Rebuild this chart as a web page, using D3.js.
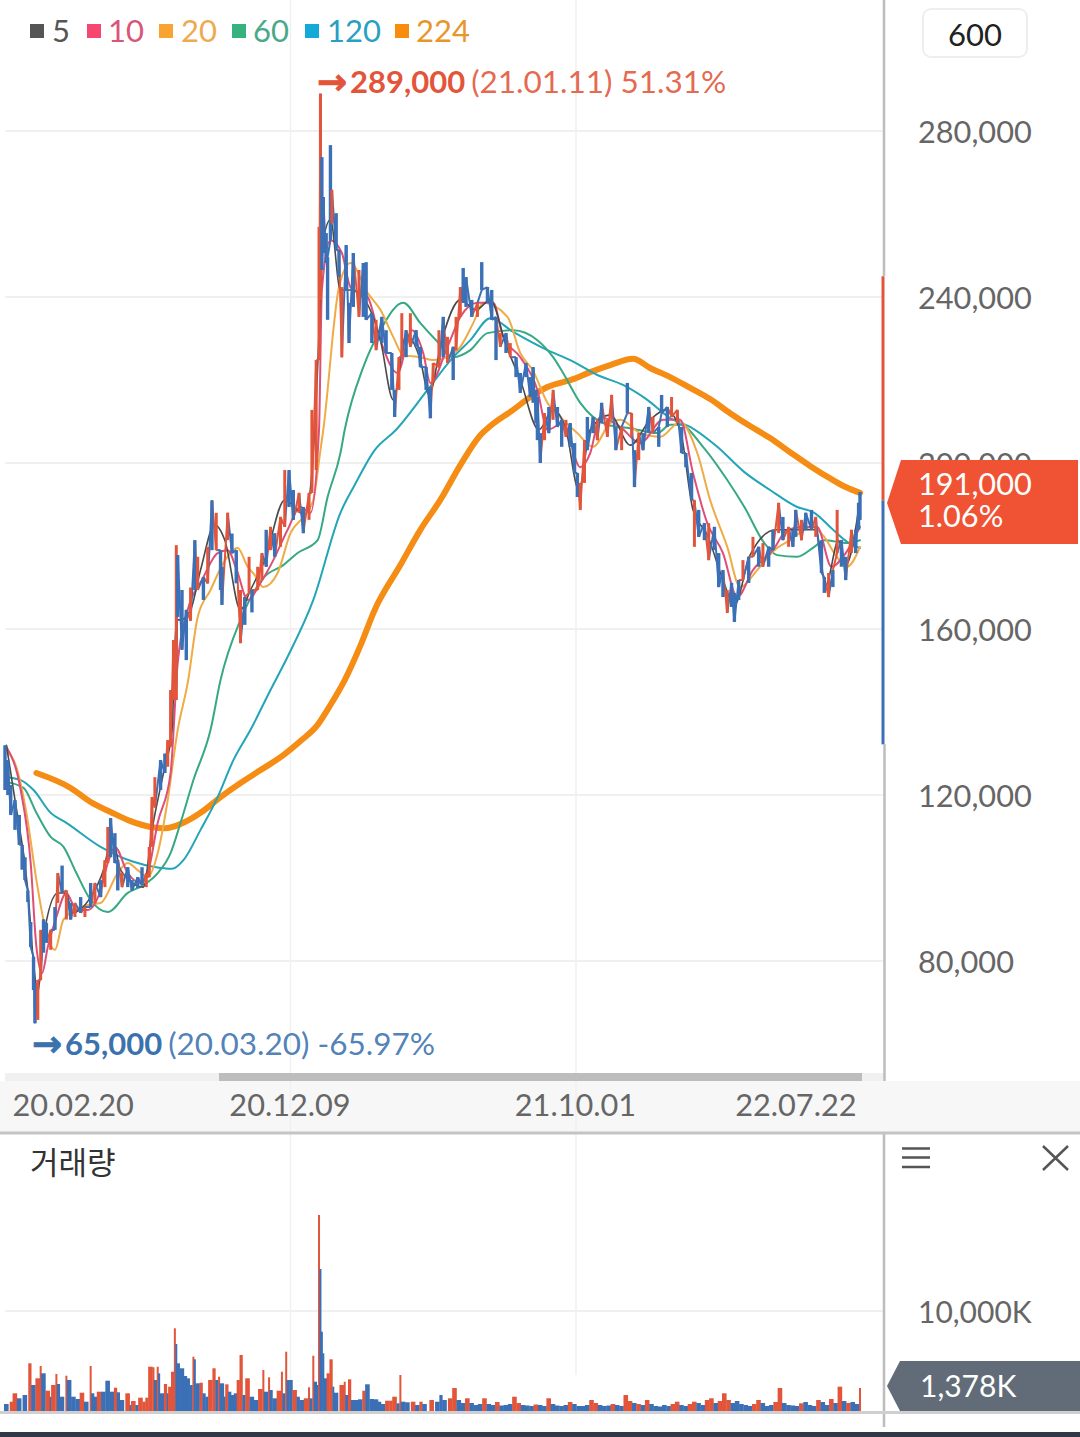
<!DOCTYPE html>
<html>
<head>
<meta charset="utf-8">
<script src="https://cdn.jsdelivr.net/npm/d3@7"></script>
<style>
  html, body { margin: 0; padding: 0; background: #fff; }
  svg { display: block; font-family: Lato, sans-serif; }
</style>
</head>
<body>
<script>
// prices are in thousands of won, volumes in K, x is the trading day (0..599)
const priceTicks = [80, 120, 160, 200, 240, 280];
const dateTicks = [0, 200, 400, 599];
const dateLabels = ["20.02.20", "20.12.09", "21.10.01", "22.07.22"];
const legendNames = ["5", "10", "20", "60", "120", "224"];
const legendColors = ["#555555", "#f5476f", "#f9a431", "#35b27d", "#14a9d6", "#f98b0d"];
const legendTextColors = ["#555555", "#d9557a", "#eeaa4e", "#4aa98a", "#2a9fc4", "#e8952a"];

const barDay = [
  0,2,4,7,10,12,14,16,18,20,
  21,23,25,27,29,32,35,37,40,43,
  46,49,53,56,60,63,67,70,72,74,
  77,79,82,86,89,93,96,99,101,103,
  105,109,112,114,116,118,120,121,124,127,
  130,133,135,139,142,145,148,151,152,156,
  159,162,165,168,171,173,177,180,183,186,
  189,193,196,199,202,206,209,213,215,218,
  220,221,222,223,225,226,228,229,232,234,
  236,239,241,244,248,251,253,257,260,264,
  267,271,273,276,278,281,284,288,291,295,
  298,300,304,307,310,314,316,319,321,323,
  327,331,334,338,341,344,347,351,354,358,
  361,365,368,370,372,373,375,378,381,384,
  387,390,393,396,399,401,403,406,408,412,
  415,418,422,425,428,432,436,439,441,444,
  447,451,454,458,460,464,467,471,474,477,
  481,483,486,490,493,497,500,503,506,509,
  511,514,517,521,524,528,531,535,538,542,
  545,549,552,554,558,561,565,568,572,574,
  577,580,583,586,589,593,596,598,599];
const barHigh = [
  132,128.4,122.4,118.8,115.2,108,105,97,89.4,81,
  74.7,75.4,87.5,90,89.2,87.5,93,101.2,103,97,
  94,94,95.4,93,98.8,98.8,99.5,104.3,112.3,114.4,
  110.8,104.3,101.2,102.6,99.5,100.2,102.6,101.2,107.5,119.5,
  124.3,128.4,130,133.2,145.3,157.3,180.2,177.8,169.4,164.6,
  170,181.4,177.4,172.5,179.8,191,188,179,175,188,
  183,179,169.4,167.7,177.4,169.4,175,178.3,183.9,184.6,
  183.1,187,198.3,198.3,193.5,192.8,189.4,192.8,212.8,224.8,
  256.9,289,273.7,264.1,255.4,249.6,276.6,265.8,260.2,251.3,
  242.4,252.5,238.6,250.6,246.5,248.2,248.4,236.1,234.5,235.2,
  232,226.5,217.6,225.5,236.1,232,236.1,232,228,223.1,
  218.3,224.1,232,235.2,230.4,228,235.2,242.4,247,244.8,
  239.3,238.6,248.4,242.4,241.7,235.2,231.3,231.3,228.9,225.5,
  221.7,224.1,220.7,223.1,217.6,215.9,207.2,212,213.5,217.6,
  213.5,210.4,210.4,209.6,204.8,197.6,195.2,205.5,211.1,211.1,
  210.4,214.5,210.4,216.4,208.7,208.7,219.3,212,203.1,207.2,
  207.2,213.5,211.1,208.7,216.4,213.5,215.9,212.8,208.7,202.4,
  197.6,191,188.7,185.5,185.5,184.6,178.3,174.2,169.4,171.1,
  168.7,171.8,176.6,177.4,182.2,179.8,180.7,179.8,183.9,190.4,
  187,184.6,183.9,188.7,186.3,188,188.7,187,181.4,172.5,
  173.5,174.2,188.7,181.4,177.4,183.9,183.9,190.4,193];
const barLow = [
  121.2,120,115.2,111.6,108,102,99.5,94.2,83.4,73,
  65,65.8,75.4,82,84.4,82.7,87.5,94,96.4,90,
  90,90.6,91.6,90.6,93,94,95.4,97.8,103.6,105,
  103.6,97,97.8,97.8,97,97.6,98.3,97.8,100.2,107.5,
  117,121.2,125.3,126.8,131.6,142.9,142.9,162.9,155,152.5,
  162,169.4,169.4,167,171,179,179,169.4,165.8,181.4,
  178.3,171,156.6,161,168.7,164,169.4,171.8,175,179,
  177.4,179.8,184.6,189.4,186.3,188,183.1,186.3,192.8,198.3,
  224.8,239.3,246.5,250.6,248.2,234.5,253.7,257.8,251.3,244.8,
  225.5,241.7,228.9,237.6,235.2,235.2,234.5,228.9,227.2,228.9,
  226.5,217.6,211.1,217.6,225.5,225.5,228,228,223.1,217.6,
  210.8,219.3,223.1,225.5,224.1,220,227.2,235.2,238.6,237.6,
  235.2,235.2,241.7,238.6,234.5,224.8,228,226.5,225.5,220.7,
  216.9,220.7,215.9,214.5,209.6,205.5,200,205.5,207.2,210.4,
  208.7,203.9,206.3,203.9,197.6,191.8,188.7,195.2,203.1,207.2,
  205.5,209.6,206.3,210.4,203.1,203.1,212,206.3,194.2,200.7,
  203.1,207.2,207.2,203.9,212,208.7,211.1,209.6,202.4,199,
  191,179.8,182.2,181.4,176.6,179,170.1,167.7,163.9,165.3,
  161.7,167,171.8,171.1,177.4,175,175,175,179,183.1,
  181.4,179.8,179.8,182.2,181.4,183.9,183.9,182.2,173.5,168.7,
  167.7,170.1,178.3,175,171.8,178.3,178.3,183.9,186.3];
const barUp = [
  0,0,0,0,0,0,0,0,0,0,
  0,1,1,0,0,1,0,1,0,1,
  0,1,0,1,0,1,0,1,1,0,
  0,0,1,0,0,0,0,1,1,1,
  1,0,0,1,1,1,1,0,0,0,
  1,0,1,0,1,0,1,0,0,1,
  0,0,1,0,1,0,1,1,0,1,
  0,1,1,0,0,1,0,1,1,1,
  1,1,0,0,0,0,0,1,0,0,
  1,0,0,0,1,0,0,0,1,0,
  0,0,0,1,1,0,1,0,0,0,
  0,1,1,0,1,0,1,1,0,0,
  0,1,0,0,0,0,1,0,1,0,
  0,0,0,0,0,0,0,1,0,1,
  0,0,1,0,0,0,1,1,0,0,
  1,0,1,1,0,1,0,1,0,1,
  0,0,1,0,0,0,1,1,0,0,
  0,1,0,0,1,0,0,0,1,0,
  0,0,1,0,1,0,1,0,0,1,
  0,1,0,0,1,0,0,1,0,0,
  1,0,1,0,0,1,0,0,0];

const ma5Day = [1,7,16,20,23,27,37,43,47,60,69,75,81,97,103,111,117,120,123,130,137,147,154,165,172,182,196,210,217,221,223,228,235,242,252,263,272,281,291,297,306,319,330,340,351,361,374,384,393,402,410,424,438,452,463,473,482,492,503,511,522,540,558,568,575,584,589,599];
const ma5 = [132,118.8,97.1,79.5,72.3,85.8,96.4,96.4,91.6,95.4,101.9,109.9,101.9,97.8,111.6,125.3,135.7,162.2,162.2,164.6,174.2,185.1,181.4,164.6,169.4,176.6,191.1,187.5,208,239.3,253.7,258.6,241.7,241.7,239.3,229.6,215.2,230.8,224.8,216.4,229.6,239.3,236.9,239.3,228.4,220,208,212.8,208,193.5,208,211.6,204.3,210.4,212.8,208,188.7,182.7,171.8,165.8,177.8,183.9,183.9,183.9,170.6,181.4,175.4,191];
const ma10Day = [1,11,18,22,26,30,36,43,50,58,67,72,77,86,95,100,107,116,121,128,138,149,156,163,170,179,188,198,207,214,220,222,228,236,242,254,263,275,285,293,298,310,319,331,342,349,361,373,380,391,403,410,417,431,445,461,473,482,492,503,513,524,538,548,559,569,579,589,599];
const ma10 = [131.6,121.2,103.6,83.4,77.1,83.4,90.6,96.4,92.3,92.3,97.1,103.6,107.5,101.2,98.8,101.2,113.3,125.3,151.8,164.6,171.8,178.3,179,173.5,167,171.1,176.6,183.9,189.4,188,208,241.7,253.7,250.6,242.4,240,229.6,221.7,232,226.5,219.3,228,235.2,238.6,238.6,230.4,225.5,217.6,208,209.6,199,202.4,211.1,208.7,204.8,210.4,210.4,197.6,185.5,178.3,167.7,174.2,179,183.9,184.6,184.6,175,178.3,184.6];
const ma20Day = [1,8,15,22,28,35,41,58,67,79,86,93,100,107,114,121,128,135,144,153,163,170,175,181,191,200,209,216,221,223,234,242,254,263,272,279,291,300,317,328,335,352,361,370,380,391,401,412,424,431,445,459,473,485,494,506,515,527,539,550,565,574,581,590,599];
const ma20 = [130.8,126.7,115.7,99.5,88.2,82.7,90,93.5,94,101.2,103.6,101.9,100.2,106,118.8,135.7,147,162.9,169.4,175.9,179.5,175,173,170.1,173.5,183.1,187,191.1,203.1,208,242.4,248.2,241,236.9,230.4,226,225.5,224.8,227.2,233.7,238.6,235.2,226.5,222.2,214.5,210.4,207.2,203.9,209.6,210.4,207.2,206.3,209.9,202.4,191.1,179.8,170.1,174.2,179,181.4,184.6,182.2,178.3,175,179.8];
const ma60Day = [1,13,22,32,41,50,60,72,86,97,107,116,123,132,144,151,165,181,195,205,219,226,235,238,251,263,279,291,303,314,326,338,356,373,384,391,403,422,438,457,466,473,489,506,518,532,541,555,567,574,590,599];
const ma60 = [123.1,121.7,115.7,109.9,107.5,101.2,94.7,91.8,96.4,98.3,101.2,106,113.3,123.6,135.7,147.7,162.2,172.3,175.4,178.3,181.4,191.8,202.4,208,223.1,232,238.6,233.7,229.2,225.5,227.2,231.3,232,229.6,225.5,221.7,214.5,209.2,208.4,207.2,209.2,209.2,203.9,195.9,189.4,180.7,177.8,177.4,179.8,181.4,180.7,181.4];
const ma120Day = [1,11,20,32,43,67,90,104,117,125,137,149,160,172,186,198,216,235,245,259,274,296,314,326,340,356,380,396,415,433,450,466,480,499,518,536,555,567,579,590,599];
const ma120 = [124.3,123.6,121.2,115.7,113.3,107.5,103.9,102.7,102.2,104.3,111.6,119.5,128.4,135.7,145.3,153.3,167,188,194.7,203.1,208,217.6,225.5,229.6,234.9,231.6,227.2,224.8,221.2,218.8,215.2,210.8,208.7,203.9,197.8,193.5,189.4,188,184.3,181,179.5];
const ma224Day = [22,46,60,74,88,102,112,123,137,151,165,179,195,207,219,228,238,249,259,277,291,305,319,333,340,356,368,380,398,410,424,440,452,466,480,494,508,522,536,550,564,579,589,599];
const ma224 = [125.3,121.7,118.3,115.9,113.7,112.3,112,113,115.7,119.5,122.9,126,129.6,133,136.9,141.7,147.7,156,164.6,175.4,183.9,191.1,199.5,206.7,208.9,212.8,215.9,218.3,220.2,221.9,223.6,225.1,222.9,220.7,218.1,215.4,212,208.9,206,202.6,199.3,196.1,194.2,192.8];

const volDayEarly = [
  0,4,6,9,13,17,19,22,25,26,
  29,32,33,36,37,39,43,44,47,50,
  53,56,60,61,63,65,68,71,74,77,
  79,81,85,88,89,92,94,97,99,101,
  104,105,107,108,109,112,114,115,117,119,
  120,121,123,126,128,130,132,133,134,137,
  139,141,143,146,148,150,151,154,155,157,
  159,161,163,165,167,169,172,175,178,181,
  182,185,186,188,191,194,195,197,198,200,
  202,205,207,210,213,214,216,217,219,220,
  221,222,223,224,226,228,230,231,235,238,
  239,241,243,245,248,251,253,256,259,262,
  264,267,270,272,275,277,278,281,285,288,
  291,293,298,302,305,307,311];
const volumeEarly = [
  700,930,1770,1270,1600,4770,2600,3270,4500,3770,
  2030,1430,2600,3700,2700,1430,3530,3100,1430,1200,
  1830,930,4500,1770,1430,1930,1930,3030,1930,2330,
  1870,1100,1770,600,1000,600,1330,930,1330,4430,
  4370,3100,4430,3770,1770,2700,1770,2430,3930,8270,
  6700,4770,4270,3500,3270,2600,5430,5170,2770,2830,
  1770,1430,3100,4270,3100,3430,2770,1430,2670,1930,
  1600,1770,3100,5600,1600,3270,1430,1100,2200,4100,
  1930,3370,2100,1270,2030,3930,1770,5930,3100,3100,
  2100,1430,1100,1270,2370,1270,5530,2930,2600,19600,
  14200,7930,5770,3270,3770,5170,2430,1830,2600,2930,
  1600,3170,1100,1100,1170,2030,2670,1200,1170,930,
  700,1030,1030,1430,770,3600,930,870,930,600,
  930,700,1100,930,1600,1100,1270];
const volUpEarly = [
  0,1,1,0,0,1,0,1,1,0,
  1,0,1,1,0,0,1,0,0,0,
  1,0,1,0,0,1,0,0,0,1,
  0,0,1,0,1,0,1,1,1,1,
  1,0,1,0,0,1,0,1,1,1,
  0,0,0,0,0,0,1,0,0,1,
  0,0,1,1,0,1,0,0,1,0,
  0,0,1,1,0,1,0,0,1,1,
  0,1,0,0,1,1,0,1,0,0,
  1,0,0,1,1,0,1,0,0,1,
  0,0,0,0,1,1,0,0,1,1,
  0,1,0,0,0,1,0,0,0,0,
  0,1,1,1,0,1,0,0,1,0,
  1,0,1,0,0,0,1];
const volDayLate = d3.range(314, 600, 3);
const volumeLate = [
  2300,1100,800,1270,800,600,700,1270,700,600,
  900,550,600,700,1430,800,600,550,500,650,
  600,500,1270,700,550,500,600,900,700,500,
  500,600,1100,800,600,500,550,700,600,500,
  1600,1000,800,700,600,1100,700,500,450,600,
  500,700,930,600,500,700,930,800,600,1100,
  1270,800,1000,1770,1100,800,1000,700,600,500,
  700,1100,800,500,600,900,2300,800,600,550,
  500,770,900,600,500,1100,900,600,1200,800,
  2430,1000,800,900,700,2300];
const volUpLate = [
  1,0,0,1,0,0,0,1,0,0,
  1,0,0,0,1,1,0,0,0,1,
  0,0,1,0,0,0,0,1,0,0,
  0,0,1,1,0,0,0,1,0,0,
  1,1,0,1,0,1,0,0,0,0,
  0,1,1,0,0,1,1,0,0,1,
  1,0,1,1,1,0,0,0,0,0,
  1,1,0,0,0,1,1,0,0,0,
  0,1,0,0,0,1,0,0,1,0,
  1,0,1,0,0,1];

const w = 1080;
const h = 1437;
const red = "#e2553a";
const blue = "#3b6fb6";
const tickColor = "#666";
const fontSize = 30.7;

const x = d3.scaleLinear().domain([0, 599]).range([5, 860]);
const y = d3.scaleLinear().domain([280, 80]).range([131, 961]);
const yVol = d3.scaleLinear().domain([0, 10000]).range([1411, 1311]);

const svg = d3.select("body").append("svg").attr("width", w).attr("height", h);
svg.append("rect").attr("width", w).attr("height", h).attr("fill", "#fff");

// date strip under the price panel
svg.append("rect").attr("x", 0).attr("y", 1081).attr("width", w).attr("height", 51).attr("fill", "#f7f7f7");

// grids
svg.append("g").selectAll("line").data(priceTicks).join("line")
  .attr("x1", x(0)).attr("x2", 884).attr("y1", d => y(d)).attr("y2", d => y(d))
  .attr("stroke", "#f0f0f0").attr("stroke-width", 2);
svg.append("line").attr("x1", x(0)).attr("x2", 884).attr("y1", yVol(10000)).attr("y2", yVol(10000))
  .attr("stroke", "#f0f0f0").attr("stroke-width", 2);
svg.append("line").attr("x1", x(200)).attr("x2", x(200)).attr("y1", 0).attr("y2", 1411).attr("stroke", "#f0f0f0").attr("stroke-width", 1.5);
svg.append("line").attr("x1", x(400)).attr("x2", x(400)).attr("y1", 0).attr("y2", 1375).attr("stroke", "#f0f0f0").attr("stroke-width", 1.5);

// scrollbar
svg.append("rect").attr("x", 5).attr("y", 1073).attr("width", 879).attr("height", 8).attr("fill", "#f0f0f0");
svg.append("rect").attr("x", 219).attr("y", 1073).attr("width", 643).attr("height", 8).attr("fill", "#bdbdbd");

// moving averages sit under the candles
function maLine(days, values, color, width) {
  const line = d3.line().x((d, i) => x(days[i])).y(d => y(d)).curve(d3.curveMonotoneX);
  svg.append("path").attr("d", line(values)).attr("fill", "none")
    .attr("stroke", color).attr("stroke-width", width).attr("stroke-linecap", "round").attr("stroke-linejoin", "round");
}
maLine(ma224Day, ma224, "#f58c14", 6);
maLine(ma120Day, ma120, "#23a5b8", 2);
maLine(ma60Day, ma60, "#36a983", 2);
maLine(ma20Day, ma20, "#efab45", 2);
maLine(ma10Day, ma10, "#de4f78", 2);
maLine(ma5Day, ma5, "#4a4a4a", 1.6);

// candles: a zigzag between neighbours closes the gaps, then the bars on top
const candles = svg.append("g").style("filter", "blur(0.45px)");
candles.selectAll("line.link").data(barDay.slice(1)).join("line").attr("class", "link")
  .attr("x1", (d, i) => x(barDay[i])).attr("x2", d => x(d))
  .attr("y1", (d, i) => y(i % 2 ? barHigh[i] : barLow[i]))
  .attr("y2", (d, i) => y(i % 2 ? barLow[i + 1] : barHigh[i + 1]))
  .attr("stroke", (d, i) => barUp[i + 1] ? red : blue)
  .attr("stroke-width", 2);
candles.selectAll("line.bar").data(barDay).join("line").attr("class", "bar")
  .attr("x1", d => x(d)).attr("x2", d => x(d))
  .attr("y1", (d, i) => y(barHigh[i])).attr("y2", (d, i) => y(barLow[i]))
  .attr("stroke", (d, i) => barUp[i] ? red : blue)
  .attr("stroke-width", (d, i) => barUp[i] ? 3 : 3.4);

// volume
const volDay = volDayEarly.concat(volDayLate);
const volume = volumeEarly.concat(volumeLate);
const volUp = volUpEarly.concat(volUpLate);
svg.append("g").style("filter", "blur(0.4px)").selectAll("rect").data(volDay).join("rect")
  .attr("x", d => x(d) - 1)
  .attr("width", (d, i) => i + 1 < volDay.length ? Math.min(4.6, Math.max(2, x(volDay[i + 1]) - x(d) + 0.4)) : 2)
  .attr("y", (d, i) => yVol(volume[i]))
  .attr("height", (d, i) => yVol(0) - yVol(volume[i]))
  .attr("fill", (d, i) => volUp[i] ? red : blue);

// range line on the price axis
svg.append("line").attr("x1", 883).attr("x2", 883).attr("y1", y(245)).attr("y2", y(191)).attr("stroke", red).attr("stroke-width", 3);
svg.append("line").attr("x1", 883).attr("x2", 883).attr("y1", y(191)).attr("y2", y(132.2)).attr("stroke", blue).attr("stroke-width", 3);

// panel frame
svg.append("line").attr("x1", 884).attr("x2", 884).attr("y1", 0).attr("y2", 276).attr("stroke", "#bdbdbd").attr("stroke-width", 2.5);
svg.append("line").attr("x1", 884.5).attr("x2", 884.5).attr("y1", 744).attr("y2", 1081).attr("stroke", "#bdbdbd").attr("stroke-width", 2.5);
svg.append("line").attr("x1", 884).attr("x2", 884).attr("y1", 1132).attr("y2", 1427).attr("stroke", "#bdbdbd").attr("stroke-width", 2.5);
svg.append("line").attr("x1", 0).attr("x2", w).attr("y1", 1133).attr("y2", 1133).attr("stroke", "#c4c4c4").attr("stroke-width", 3);
svg.append("line").attr("x1", 0).attr("x2", w).attr("y1", 1412.5).attr("y2", 1412.5).attr("stroke", "#cfcfcf").attr("stroke-width", 3);
svg.append("rect").attr("x", 0).attr("y", 1432).attr("width", w).attr("height", 5).attr("fill", "#2f3a46");

// price axis
const yAxis = d3.axisRight(y).tickValues(priceTicks).tickSize(0).tickPadding(34).tickFormat(d => d3.format(",")(d * 1000));
svg.append("g").attr("transform", "translate(884,0)").call(yAxis)
  .call(g => g.select(".domain").remove())
  .call(g => g.selectAll("text").attr("font-family", "Lato").attr("font-size", fontSize).attr("fill", tickColor).attr("dy", "0.37em"));

// volume axis
const volAxis = d3.axisRight(yVol).tickValues([10000]).tickSize(0).tickPadding(34).tickFormat(d => d3.format(",")(d) + "K");
svg.append("g").attr("transform", "translate(884,0)").call(volAxis)
  .call(g => g.select(".domain").remove())
  .call(g => g.selectAll("text").attr("font-family", "Lato").attr("font-size", 30).attr("fill", tickColor).attr("dy", "0.37em"));

// date axis
const xAxis = d3.axisBottom(x).tickValues(dateTicks).tickSize(0).tickPadding(0).tickFormat((d, i) => dateLabels[i]);
svg.append("g").attr("transform", "translate(0,1094)").call(xAxis)
  .call(g => g.select(".domain").remove())
  .call(g => g.selectAll("text").attr("font-family", "Lato").attr("font-size", fontSize).attr("fill", tickColor)
    .attr("text-anchor", (d, i) => i == 0 ? "start" : i == 3 ? "end" : "middle")
    .attr("dx", (d, i) => i == 0 ? 7 : i == 3 ? -4 : -1));

// legend
const legendBoxX = [30, 87, 159, 232, 305, 395];
const legendTextX = [52, 108, 181, 253, 327, 416];
legendNames.forEach((name, i) => {
  svg.append("rect").attr("x", legendBoxX[i]).attr("y", 24).attr("width", 14).attr("height", 14).attr("fill", legendColors[i]);
  svg.append("text").attr("x", legendTextX[i]).attr("y", 42).attr("font-size", 31).attr("fill", legendTextColors[i]).text(name);
});

// high / low notes
function note(xPos, yPos, color, bold, rest) {
  svg.append("text").attr("x", xPos - 1).attr("y", yPos + 1).attr("font-family", "DejaVu Sans").attr("font-weight", 700)
    .attr("font-size", 36).attr("fill", color).attr("stroke", color).attr("stroke-width", 0.8).text("→");
  const t = svg.append("text").attr("x", xPos + 32).attr("y", yPos).attr("font-size", 31).attr("fill", color);
  t.append("tspan").attr("font-weight", 700).text(bold);
  t.append("tspan").attr("dx", 6).attr("font-size", 31.5).attr("fill-opacity", 0.9).text(rest);
}
note(318, 93, red, "289,000", "(21.01.11) 51.31%");
note(33, 1055, "#3b72ae", "65,000", "(20.03.20) -65.97%");

// period button
svg.append("rect").attr("x", 923).attr("y", 9).attr("width", 104).attr("height", 48).attr("rx", 8)
  .attr("fill", "#fff").attr("stroke", "#eeeeee").attr("stroke-width", 2);
svg.append("text").attr("x", 975).attr("y", 46).attr("text-anchor", "middle").attr("font-size", 31).attr("fill", "#222").text("600");

// current price tag
svg.append("path").attr("d", "M887,503L901,460H1078V544H901Z").attr("fill", "#ef5334");
svg.append("text").attr("x", 918).attr("y", 495).attr("font-size", fontSize).attr("fill", "#fff").text("191,000");
svg.append("text").attr("x", 918).attr("y", 527).attr("font-size", fontSize).attr("fill", "#fff").text("1.06%");

// volume panel
svg.append("text").attr("x", 30).attr("y", 1174).attr("font-family", "Noto Sans CJK KR").attr("font-size", 31).attr("fill", "#333").text("거래량");
svg.append("path").attr("d", "M902,1148.5H930M902,1157.5H930M902,1167H930M1043,1146L1068,1170M1068,1146L1043,1170")
  .attr("stroke", "#555").attr("stroke-width", 2.5).attr("fill", "none");
svg.append("path").attr("d", "M887,1386L900,1361H1080V1411H900Z").attr("fill", "#626c78");
svg.append("text").attr("x", 920).attr("y", 1397).attr("font-size", 30).attr("fill", "#fff").text("1,378K");
</script>
</body>
</html>
